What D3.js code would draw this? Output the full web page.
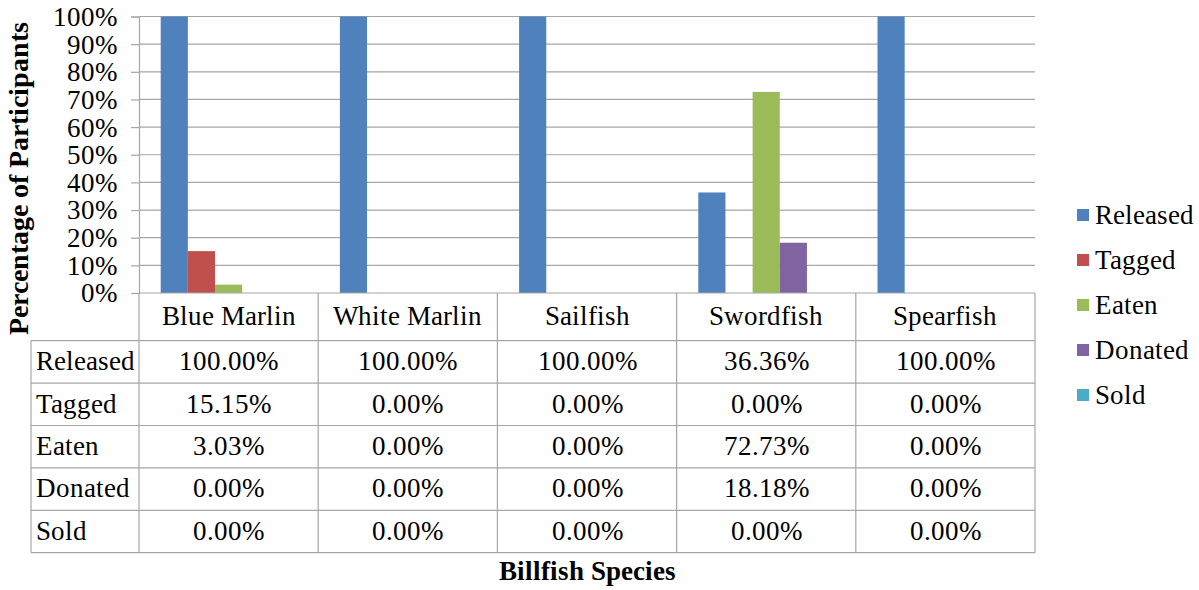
<!DOCTYPE html>
<html>
<head>
<meta charset="utf-8">
<script src="https://cdn.jsdelivr.net/npm/d3@7"></script>
<style>
  @font-face { font-family: "ChartSerif"; src: local("Liberation Serif"), local("LiberationSerif"), local("LiberationSerif-Regular"); font-weight: normal; }
  @font-face { font-family: "ChartSerif"; src: local("Liberation Serif Bold"), local("LiberationSerif-Bold"); font-weight: bold; }
</style>
</head>
<body style="margin:0">
<svg id="chart" width="1199" height="590" font-family="ChartSerif, Liberation Serif, serif"></svg>
<script>
// ---- data ----
const categories = ["Blue Marlin", "White Marlin", "Sailfish", "Swordfish", "Spearfish"];
const seriesNames = ["Released", "Tagged", "Eaten", "Donated", "Sold"];
const released = [1.0, 1.0, 1.0, 0.3636, 1.0];
const tagged   = [0.1515, 0, 0, 0, 0];
const eaten    = [0.0303, 0, 0, 0.7273, 0];
const donated  = [0, 0, 0, 0.1818, 0];
const sold     = [0, 0, 0, 0, 0];
const yTicks = [0, 0.1, 0.2, 0.3, 0.4, 0.5, 0.6, 0.7, 0.8, 0.9, 1.0];
const colors = ["#4F81BD", "#C0504D", "#9BBB59", "#8064A2", "#4BACC6"];
const yTitle = "Percentage of Participants";
const xTitle = "Billfish Species";

const seriesValues = [released, tagged, eaten, donated, sold];

// ---- layout ----
const FONT = "ChartSerif, 'Liberation Serif', serif";
const svg = d3.select("#chart");
const plotLeft = 139, plotRight = 1035, plotTop = 16.5, plotBottom = 293;
const gridColor = "#a6a6a6";
const fontSize = 27;

const x = d3.scaleBand().domain(categories).range([plotLeft, plotRight]).paddingInner(0).paddingOuter(0);
const inner = d3.scaleBand().domain(seriesNames)
  .range([21.7, x.bandwidth() - 21.7]).paddingInner(0).paddingOuter(0);
const y = d3.scaleLinear().domain([0, 1]).range([plotBottom, plotTop]);

// gridlines
svg.append("g").selectAll("line").data(yTicks.filter(d => d > 0)).join("line")
  .attr("x1", plotLeft).attr("x2", plotRight)
  .attr("y1", d => y(d)).attr("y2", d => y(d))
  .attr("stroke", gridColor).attr("stroke-width", 1.2);

// bars
const bars = svg.append("g");
seriesNames.forEach((s, si) => {
  bars.append("g").selectAll("rect").data(categories.map((c, ci) => ({c, v: seriesValues[si][ci]})))
    .join("rect")
    .attr("x", d => x(d.c) + inner(s))
    .attr("width", inner.bandwidth())
    .attr("y", d => y(d.v))
    .attr("height", d => y(0) - y(d.v))
    .attr("fill", colors[si]);
});

function txt(sel) {
  return sel.attr("font-family", FONT).style("font-family", FONT).attr("font-size", fontSize).attr("fill", "#000");
}

// y axis
const yAxis = d3.axisLeft(y).tickValues(yTicks).tickFormat(d3.format(".0%")).tickSize(8).tickPadding(14);
const ga = svg.append("g").attr("transform", `translate(${plotLeft},0)`).call(yAxis);
ga.attr("font-family", FONT).attr("font-size", fontSize);
ga.select(".domain").attr("stroke", gridColor).attr("stroke-width", 1.2);
ga.selectAll(".tick line").attr("stroke", gridColor).attr("stroke-width", 1.2);
txt(ga.selectAll(".tick text")).attr("dy", "0.33em");

// ---- data table ----
const tableLeft = 31;
const headerBottom = 340.7;
const rowH = 42.4;
const tableBottom = headerBottom + rowH * seriesNames.length;
const tg = svg.append("g");

tg.append("line").attr("x1", plotLeft).attr("x2", plotRight).attr("y1", plotBottom).attr("y2", plotBottom)
  .attr("stroke", gridColor).attr("stroke-width", 1.2);
d3.range(seriesNames.length + 1).forEach(i => {
  const yy = headerBottom + i * rowH;
  tg.append("line").attr("x1", tableLeft).attr("x2", plotRight).attr("y1", yy).attr("y2", yy)
    .attr("stroke", gridColor).attr("stroke-width", 1.2);
});
tg.append("line").attr("x1", tableLeft).attr("x2", tableLeft).attr("y1", headerBottom).attr("y2", tableBottom)
  .attr("stroke", gridColor).attr("stroke-width", 1.2);
[plotLeft].concat(categories.map(c => x(c) + x.bandwidth())).forEach(xx => {
  tg.append("line").attr("x1", xx).attr("x2", xx).attr("y1", plotBottom).attr("y2", tableBottom)
    .attr("stroke", gridColor).attr("stroke-width", 1.2);
});

// header labels
txt(tg.selectAll("text.cat").data(categories).join("text").attr("class", "cat")
  .attr("x", d => x(d) + x.bandwidth() / 2).attr("y", plotBottom + 32)
  .attr("text-anchor", "middle").text(d => d));

// row labels and values
const pct = d3.format(".2%");
seriesNames.forEach((s, si) => {
  const base = headerBottom + si * rowH + 29.5;
  txt(tg.append("text").attr("x", tableLeft + 5).attr("y", base).text(s));
  txt(tg.append("g").selectAll("text").data(categories.map((c, ci) => ({c, v: seriesValues[si][ci]})))
    .join("text")
    .attr("x", d => x(d.c) + x.bandwidth() / 2).attr("y", base)
    .attr("text-anchor", "middle").text(d => pct(d.v)));
});

// ---- legend ----
const lg = svg.append("g");
seriesNames.forEach((s, si) => {
  const cy = 215 + si * 45;
  lg.append("rect").attr("x", 1077).attr("y", cy - 6).attr("width", 12).attr("height", 12).attr("fill", colors[si]);
  txt(lg.append("text").attr("x", 1095).attr("y", cy + 8.5).text(s));
});

// ---- titles ----
txt(svg.append("text").attr("transform", "translate(28,178) rotate(-90)")
  .attr("text-anchor", "middle").attr("font-weight", "bold").text(yTitle)).attr("font-size", 27.5);
txt(svg.append("text").attr("x", 587).attr("y", 580)
  .attr("text-anchor", "middle").attr("font-weight", "bold").text(xTitle));
</script>
</body>
</html>
